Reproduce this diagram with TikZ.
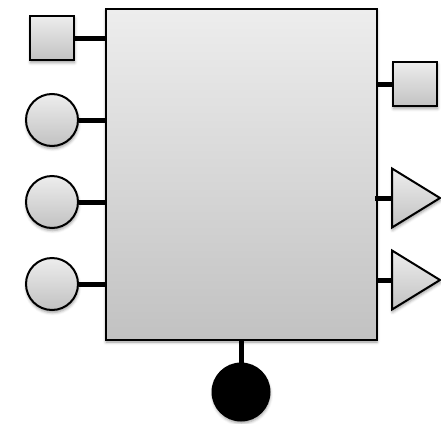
\documentclass[tikz,border=0pt]{standalone}
\usetikzlibrary{shapes.geometric,shadows.blur}

\begin{document}
\begin{tikzpicture}[x=1pt, y=-1pt,
  part/.style={draw, line width=2pt, inner sep=0pt, top color=black!7, bottom color=black!24,
    blur shadow={shadow xshift=0.5pt, shadow yshift=-2.5pt, shadow blur radius=3pt, shadow opacity=40}},
  port/.style={part, rectangle, minimum size=44pt},
  knob/.style={part, circle, minimum size=52pt},
  horn/.style={part, isosceles triangle, isosceles triangle stretches, shape border rotate=0,
    minimum width=59pt, minimum height=48pt},
  wire/.style={line width=5pt}]

\useasboundingbox (0, 0) rectangle (441, 423);

\node[part, rectangle, minimum width=271pt, minimum height=331pt] (box) at (241, 174) {};

\node[port] (in1) at (52, 38) {};
\node[knob] (in2) at (52, 120) {};
\node[knob] (in3) at (52, 202) {};
\node[knob] (in4) at (52, 284) {};

\node[port] (out1) at (415, 84) {};
\node[horn] (out2) at (408.5, 198) {};
\node[horn] (out3) at (408.5, 280) {};

\node[part, circle, fill=black, top color=black, bottom color=black, minimum size=57pt] (gnd) at (241, 392) {};

\draw[wire] (in1.east) -- (in1.east -| box.west);
\draw[wire] (in2.east) -- (in2.east -| box.west);
\draw[wire] (in3.east) -- (in3.east -| box.west);
\draw[wire] (in4.east) -- (in4.east -| box.west);

\draw[wire] (out1.west) -- (out1.west -| box.east);
\draw[wire] (out2.west) -- ([xshift=-3pt]out2.west -| box.east);
\draw[wire] (out3.west) -- (out3.west -| box.east);

\draw[wire] (gnd.north) -- (box.south);

\end{tikzpicture}
\end{document}
